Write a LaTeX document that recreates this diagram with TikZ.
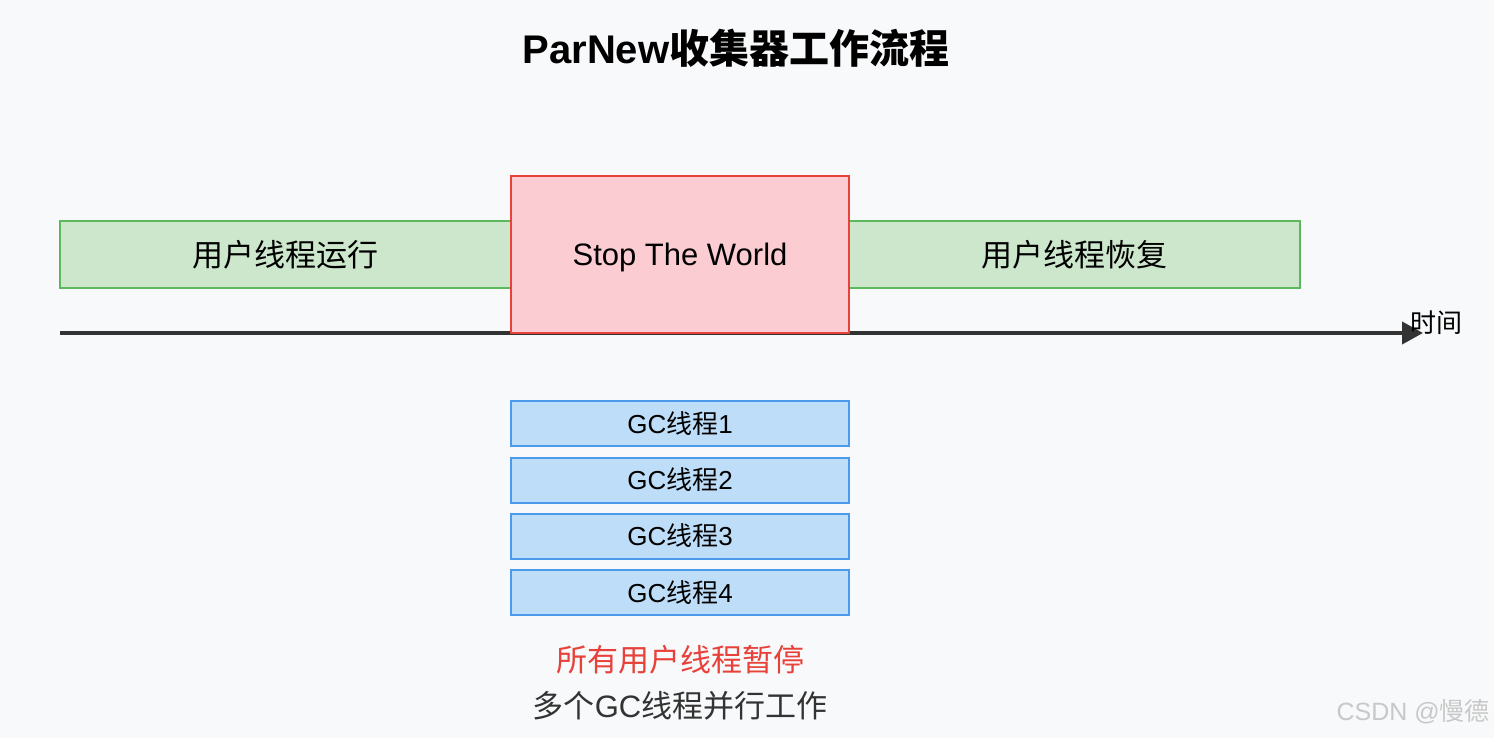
\documentclass[tikz,border=0pt]{standalone}
\usepackage{fontspec}
\setmainfont{Liberation Sans}
\newfontfamily\cjk{Noto Sans CJK SC}
\usetikzlibrary{arrows.meta}
\definecolor{bgc}{HTML}{F8F9FA}
\definecolor{gfill}{HTML}{CDE7CC}
\definecolor{gdraw}{HTML}{5DB75C}
\definecolor{rfill}{HTML}{FCCCD3}
\definecolor{rdraw}{HTML}{E8413A}
\definecolor{bfill}{HTML}{BEDDF8}
\definecolor{bdraw}{HTML}{4A9BE9}
\definecolor{axisc}{HTML}{333333}
\definecolor{wmark}{HTML}{C8C8C8}
\tikzset{
  greenbox/.style={draw=gdraw, fill=gfill, line width=2pt, minimum width=451pt, minimum height=67pt, inner sep=0pt, font=\fontsize{31}{36}\selectfont},
  stwbox/.style={draw=rdraw, fill=rfill, line width=2pt, minimum width=338pt, minimum height=157pt, inner sep=0pt, text depth=0pt, font=\fontsize{31}{36}\selectfont},
  gcbox/.style={draw=bdraw, fill=bfill, line width=2pt, minimum width=338pt, minimum height=45pt, inner sep=0pt, font=\fontsize{26}{30}\selectfont},
  note/.style={inner sep=0pt, font=\fontsize{31}{36}\selectfont},
}
\begin{document}
\begin{tikzpicture}[x=1pt,y=-1pt]
\fill[bgc] (0,0) rectangle (1494,738);
\useasboundingbox (0,0) rectangle (1494,738);
% title
\node[inner sep=0pt, font=\fontsize{40}{46}\selectfont\bfseries] (title) at (736,48) {ParNew{\cjk 收集器工作流程}};
% time axis
\coordinate (tstart) at (60,333);
\coordinate (tend) at (1423,333);
\draw[axisc, line width=4pt, -{Triangle[length=21pt,width=22pt]}] (tstart) -- (tend);
\node[inner sep=0pt, font=\fontsize{26}{30}\selectfont\cjk] (timelbl) at (1436,323) {时间};
% phases
\node[greenbox] (run) at (285.5,254.5) {\cjk 用户线程运行};
\node[greenbox] (resume) at (1074.5,254.5) {\cjk 用户线程恢复};
\node[stwbox] (stw) at (680,254.5) {Stop The World};
% GC threads
\node[gcbox] (gc1) at (680,423.5) {GC{\cjk 线程}1};
\node[gcbox] (gc2) at (680,480) {GC{\cjk 线程}2};
\node[gcbox] (gc3) at (680,536) {GC{\cjk 线程}3};
\node[gcbox] (gc4) at (680,592.5) {GC{\cjk 线程}4};
% notes
\node[note, text=rdraw] (note1) at (680,660) {\cjk 所有用户线程暂停};
\node[note, text=axisc] (note2) at (680,706) {{\cjk 多个}GC{\cjk 线程并行工作}};
% watermark
\node[inner sep=0pt, anchor=east, text=wmark, font=\fontsize{25}{30}\selectfont] (wm) at (1490,712) {CSDN @{\cjk 慢德}};
\end{tikzpicture}
\end{document}
